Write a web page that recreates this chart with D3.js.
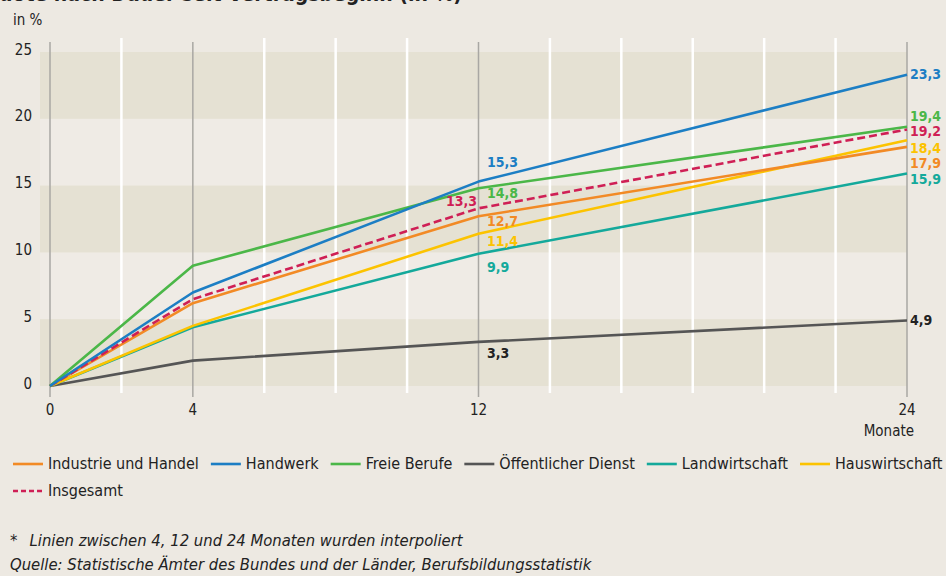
<!DOCTYPE html>
<html>
<head>
<meta charset="utf-8">
<script src="https://cdn.jsdelivr.net/npm/d3@7"></script>
<style>
  body { margin: 0; background: #ede9e2; }
  svg { display: block; }
  text { font-family: "DejaVu Sans Condensed", "DejaVu Sans", sans-serif; fill: #222; }
</style>
</head>
<body>
<div id="chart"></div>
<script>
// Data
var months = [0, 4, 12, 24];
var seriesNames = ["Industrie und Handel", "Handwerk", "Freie Berufe", "Öffentlicher Dienst", "Landwirtschaft", "Hauswirtschaft", "Insgesamt"];
var seriesColors = ["#f28a25", "#1c7ec4", "#4bb748", "#555555", "#14a99b", "#fcc300", "#cf1f55"];
var industrie = [0, 6.2, 12.7, 17.9];
var handwerk = [0, 7.0, 15.3, 23.3];
var freieBerufe = [0, 9.0, 14.8, 19.4];
var oeffentlich = [0, 1.9, 3.3, 4.9];
var landwirtschaft = [0, 4.4, 9.9, 15.9];
var hauswirtschaft = [0, 4.5, 11.4, 18.4];
var insgesamt = [0, 6.5, 13.3, 19.2];
var yTicks = [0, 5, 10, 15, 20, 25];
var xTicks = [0, 4, 12, 24];

var allSeries = [industrie, handwerk, freieBerufe, oeffentlich, landwirtschaft, hauswirtschaft, insgesamt];

var W = 946, H = 576;
var svg = d3.select("#chart").append("svg").attr("width", W).attr("height", H);

svg.append("rect").attr("width", W).attr("height", H).attr("fill", "#ede9e2");

// Scales
var x = d3.scaleLinear().domain([0, 24]).range([50, 907]);
var y = d3.scaleLinear().domain([0, 25]).range([386, 52]);

// Title (only its lower edge shows at the top of the picture, as in the original)
svg.append("text")
  .attr("x", 462).attr("y", 1)
  .attr("text-anchor", "end")
  .style("font-size", "21px").style("font-weight", "bold")
  .text("Lösungsquote nach Dauer seit Vertragsbeginn (in %)");

// Plot background and bands
svg.append("rect")
  .attr("x", 40).attr("y", y(25))
  .attr("width", x(24) - 40).attr("height", y(0) - y(25))
  .attr("fill", "#efebe5");
[0, 10, 20].forEach(function (b) {
  svg.append("rect")
    .attr("x", 40).attr("y", y(b + 5))
    .attr("width", x(24) - 40).attr("height", y(b) - y(b + 5))
    .attr("fill", "#e5e1d3");
});

// Vertical grid lines every 2 months
d3.range(0, 25, 2).forEach(function (m) {
  var main = xTicks.indexOf(m) >= 0;
  svg.append("line")
    .attr("x1", x(m)).attr("x2", x(m))
    .attr("y1", main ? 42 : 38).attr("y2", main ? 397 : 393)
    .attr("stroke", main ? "#a9a7a3" : "#ffffff")
    .attr("stroke-width", main ? 1.5 : 2.5);
});

// Y axis labels
yTicks.forEach(function (t) {
  svg.append("text")
    .attr("x", 32).attr("y", y(t) - 2)
    .attr("text-anchor", "end").attr("dominant-baseline", "middle")
    .style("font-size", "15px")
    .text(t);
});
svg.append("text").attr("x", 13).attr("y", 20)
  .attr("dominant-baseline", "middle")
  .style("font-size", "15px").text("in %");

// X axis labels
xTicks.forEach(function (t) {
  svg.append("text")
    .attr("x", x(t)).attr("y", 410)
    .attr("text-anchor", "middle").attr("dominant-baseline", "middle")
    .style("font-size", "15px")
    .text(t);
});
svg.append("text").attr("x", 914).attr("y", 431)
  .attr("text-anchor", "end").attr("dominant-baseline", "middle")
  .style("font-size", "15px").text("Monate");

// Lines
var line = d3.line()
  .x(function (d, i) { return x(months[i]); })
  .y(function (d) { return y(d); });

var drawOrder = [3, 4, 5, 0, 6, 2, 1];
drawOrder.forEach(function (s) {
  svg.append("path")
    .datum(allSeries[s])
    .attr("fill", "none")
    .attr("stroke", seriesColors[s])
    .attr("stroke-width", 2.6)
    .attr("stroke-linejoin", "round")
    .attr("stroke-dasharray", s === 6 ? "8,4" : null)
    .attr("d", line);
});

// Value labels (offsets avoid overlaps, as in the original)
var fmt = function (v) { return d3.format(".1f")(v).replace(".", ","); };
var endOffset = [17, 0, -10, 0, 6, 9, 3];
var midOffset = [6, -19, 6, 12, 14, 8, -6];
allSeries.forEach(function (vals, s) {
  var col = s === 3 ? "#222" : seriesColors[s];
  svg.append("text")
    .attr("x", 910).attr("y", y(vals[3]) + endOffset[s])
    .attr("dominant-baseline", "middle")
    .style("font-size", "14px").style("font-weight", "bold")
    .style("fill", col)
    .text(fmt(vals[3]));
  svg.append("text")
    .attr("x", s === 6 ? 477 : 487).attr("y", y(vals[2]) + midOffset[s])
    .attr("text-anchor", s === 6 ? "end" : "start")
    .attr("dominant-baseline", "middle")
    .style("font-size", "14px").style("font-weight", "bold")
    .style("fill", col)
    .text(fmt(vals[2]));
});

// Legend
var lx = 13, ly = 464;
seriesNames.forEach(function (name, s) {
  if (s === 6) { lx = 13; ly = 491; }
  svg.append("line")
    .attr("x1", lx).attr("x2", lx + 30)
    .attr("y1", ly).attr("y2", ly)
    .attr("stroke", seriesColors[s]).attr("stroke-width", 2.6)
    .attr("stroke-dasharray", s === 6 ? "5,3" : null);
  var t = svg.append("text")
    .attr("x", lx + 35).attr("y", ly)
    .attr("dominant-baseline", "middle")
    .style("font-size", "16px")
    .text(name);
  lx += 35 + t.node().getComputedTextLength() + 12;
});

// Footnotes
svg.append("text").attr("x", 10).attr("y", 541)
  .attr("dominant-baseline", "middle")
  .style("font-size", "16.5px").style("font-style", "italic")
  .text("*\u2002 Linien zwischen 4, 12 und 24 Monaten wurden interpoliert");
svg.append("text").attr("x", 10).attr("y", 565)
  .attr("dominant-baseline", "middle")
  .style("font-size", "16.5px").style("font-style", "italic")
  .text("Quelle: Statistische Ämter des Bundes und der Länder, Berufsbildungsstatistik");
</script>
</body>
</html>
